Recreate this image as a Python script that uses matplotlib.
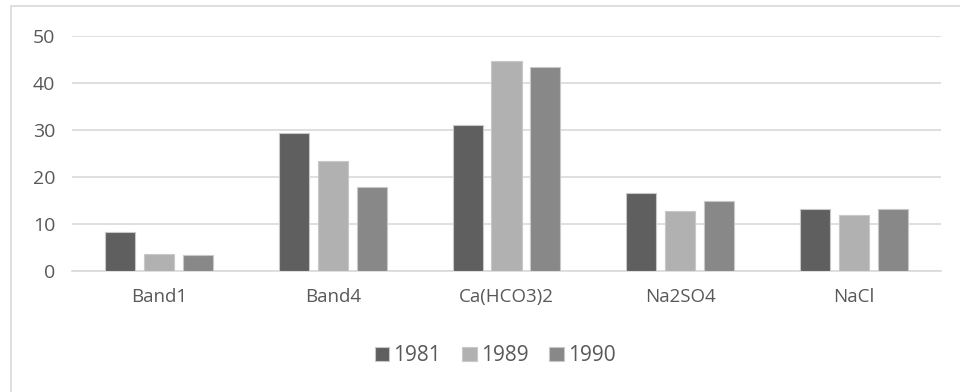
import matplotlib
matplotlib.use("Agg")
import matplotlib.pyplot as plt
from matplotlib.patches import Rectangle
import numpy as np

categories = ["Band1", "Band4", "Ca(HCO3)2", "Na2SO4", "NaCl"]
years = ["1981", "1989", "1990"]
vals_1981 = [8.2, 29.3, 31.0, 16.7, 13.2]
vals_1989 = [3.55, 23.5, 44.6, 12.8, 11.85]
vals_1990 = [3.3, 17.9, 43.5, 14.8, 13.2]
yticks = [0, 10, 20, 30, 40, 50]

colors = ["#5f5f5f", "#b1b1b1", "#888888"]
text_color = "#595959"
grid_color = "#d9d9d9"

plt.rcParams["font.family"] = ["Open Sans", "DejaVu Sans"]

fig = plt.figure(figsize=(9.6, 3.92), dpi=100)
ax = fig.add_axes([72 / 960, 1 - 271 / 392, (941 - 72) / 960, (271 - 36) / 392])

# outer chart frame (extends past the bottom/right edges)
fig.patches.append(Rectangle((10.5 / 960, -0.1), 1.2, 1 - 6.5 / 392 + 0.1,
                             transform=fig.transFigure, fill=False,
                             edgecolor=grid_color, linewidth=1.2))

x = np.arange(len(categories))
width = 0.173
offset = 0.224
for i, (vals, c, lab) in enumerate(zip([vals_1981, vals_1989, vals_1990], colors, years)):
    ax.bar(x + (i - 1) * offset, vals, width, color=c, edgecolor="#c8c8c8",
           linewidth=0.8, label=lab, zorder=3)

ax.set_xlim(-0.5, len(categories) - 0.5)
ax.set_ylim(0, 50)
ax.set_yticks(yticks)
ax.set_xticks(x)
ax.set_xticklabels(categories)
ax.grid(axis="y", color=grid_color, linewidth=1.2, zorder=0)
for s in ["top", "right", "left"]:
    ax.spines[s].set_visible(False)
ax.spines["bottom"].set_color(grid_color)
ax.spines["bottom"].set_linewidth(1.2)
ax.tick_params(axis="both", length=0, colors=text_color, labelsize=13.5)
ax.tick_params(axis="y", labelsize=14)
ax.tick_params(axis="x", pad=12)
ax.tick_params(axis="y", pad=12)

ax.legend(loc="center", bbox_to_anchor=(0.487, -0.36), ncol=3, frameon=False,
          fontsize=15, labelcolor=text_color, handlelength=0.7, handleheight=0.7,
          handletextpad=0.2, columnspacing=1.0)

fig.savefig("out.png", dpi=100)
